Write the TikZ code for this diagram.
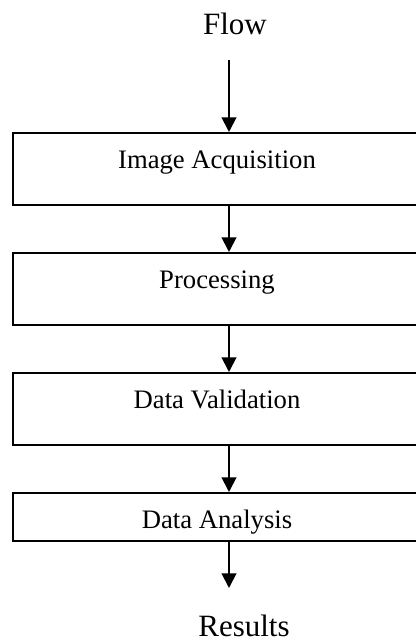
\documentclass[tikz,border=0pt]{standalone}
\usepackage{fontspec}
\setmainfont{Liberation Serif}
\usetikzlibrary{arrows.meta}

\begin{document}
\begin{tikzpicture}[x=0.75pt, y=-0.75pt, line width=1.5pt, >={Triangle[width=11pt,length=11pt]}]
        \tikzset{
            stagebox/.style={draw, inner sep=0pt, minimum width=306pt, font=\fontsize{20}{24}\selectfont},
            tallbox/.style={stagebox, minimum height=54pt, text height=14pt, text depth=15pt},
            flatbox/.style={stagebox, minimum height=36pt, text height=18pt, text depth=1.5pt},
            endlabel/.style={anchor=base, inner sep=0pt, font=\fontsize{23.25}{28}\selectfont}
        }
        \clip (0,0) rectangle (416,641);

        \node[endlabel] (flow) at (235,34.3) {Flow};

        \node[tallbox] (acq) at (217,169) {Image Acquisition};
        \node[tallbox] (proc) at (217,289) {Processing};
        \node[tallbox] (valid) at (217,409) {Data Validation};
        \node[flatbox] (analysis) at (217,517) {Data Analysis};

        \node[endlabel] (results) at (244,636.5) {Results};

        \coordinate (start) at (229,60);
        \coordinate (finish) at (229,588);

        \draw[->] (start) -- (start |- acq.north);
        \draw[->] (start |- acq.south) -- (start |- proc.north);
        \draw[->] (start |- proc.south) -- (start |- valid.north);
        \draw[->] (start |- valid.south) -- (start |- analysis.north);
        \draw[->] (start |- analysis.south) -- (finish);
    \end{tikzpicture}
\end{document}
